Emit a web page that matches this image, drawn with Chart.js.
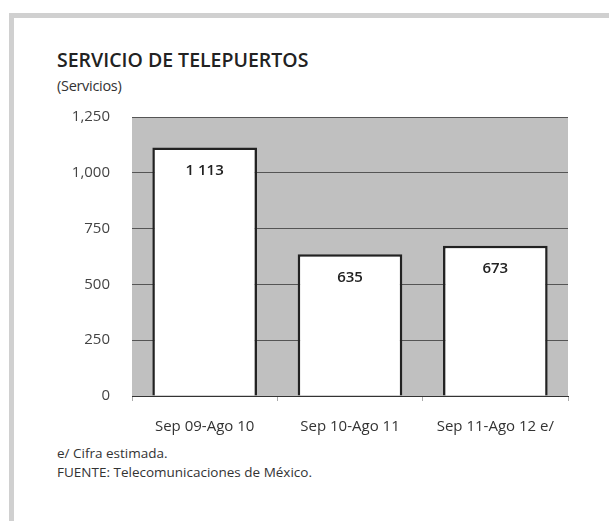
<!DOCTYPE html>
<html><head><meta charset="utf-8">
<script src="https://cdn.jsdelivr.net/npm/chart.js@4/dist/chart.umd.min.js"></script>
<style>
html,body{margin:0;padding:0;background:#fff;width:609px;height:521px;overflow:hidden;font-family:"Open Sans",sans-serif;}
#frameTop{position:absolute;left:9px;top:13px;width:600px;height:5px;background:#d0d0d0;}
#frameLeft{position:absolute;left:9px;top:13px;width:5px;height:508px;background:#d0d0d0;}
#title{position:absolute;left:57px;top:46px;font-size:19.5px;font-weight:600;color:#222;white-space:nowrap;}
#sub{position:absolute;left:57px;top:76px;font-size:14.5px;color:#333;white-space:nowrap;letter-spacing:-0.3px;}
#note1{position:absolute;left:57px;top:444px;font-size:13.5px;color:#333;white-space:nowrap;}
#note2{position:absolute;left:57px;top:463px;font-size:13.5px;color:#333;white-space:nowrap;}
#wrap{position:absolute;left:0;top:86px;width:609px;height:354px;}
</style></head>
<body>
<div id="frameTop"></div><div id="frameLeft"></div>
<div id="title">SERVICIO DE TELEPUERTOS</div>
<div id="sub">(Servicios)</div>
<div id="wrap"><canvas id="c" width="609" height="354"></canvas></div>
<div id="note1">e/ Cifra estimada.</div>
<div id="note2">FUENTE: Telecomunicaciones de México.</div>
<script>
const categories = ["Sep 09-Ago 10", "Sep 10-Ago 11", "Sep 11-Ago 12 e/"];
const servicios = [1113, 635, 673];
const yTicks = [0, 250, 500, 750, 1000, 1250];

function fmtSpace(v){ return String(v).replace(/\B(?=(\d{3})+(?!\d))/g, " "); }
function fmtComma(v){ return String(v).replace(/\B(?=(\d{3})+(?!\d))/g, ","); }

const bgPlugin = {
  id: 'bg',
  beforeDraw(chart){
    const a = chart.chartArea, ctx = chart.ctx;
    ctx.save(); ctx.fillStyle = '#c0c0c0';
    ctx.fillRect(a.left, a.top, a.right - a.left, a.bottom - a.top);
    ctx.restore();
  }
};
const labelPlugin = {
  id: 'lbl',
  afterDatasetsDraw(chart){
    const ctx = chart.ctx, meta = chart.getDatasetMeta(0);
    ctx.save();
    ctx.font = '600 15px "Open Sans"';
    ctx.fillStyle = '#222'; ctx.textAlign = 'center'; ctx.textBaseline = 'middle';
    meta.data.forEach((el, i) => {
      ctx.fillText(fmtSpace(chart.data.datasets[0].data[i]), el.x, el.y + 23);
    });
    ctx.restore();
  }
};

new Chart(document.getElementById('c'), {
  type: 'bar',
  data: { labels: categories, datasets: [{ data: servicios, backgroundColor: '#ffffff', borderColor: '#222222', borderWidth: 2.5, barPercentage: 0.72, categoryPercentage: 1 }] },
  options: {
    responsive: false, animation: false,
    layout: { padding: { left: 0, right: 41, top: 4, bottom: 0 } },
    plugins: { legend: { display: false }, tooltip: { enabled: false } },
    scales: {
      x: {
        grid: { drawOnChartArea: false, drawTicks: true, tickLength: 5, color: '#aaaaaa', offset: true },
        border: { display: true, color: '#333333', width: 1 },
        ticks: { color: '#333', font: { family: 'Open Sans', size: 15 }, padding: 17, maxRotation: 0 },
        afterFit(s){ s.height = 44; }
      },
      y: {
        min: 0, max: 1250,
        afterBuildTicks(s){ s.ticks = yTicks.map(v => ({ value: v })); },
        grid: { color: '#555555', lineWidth: 1, drawTicks: false },
        border: { display: false },
        ticks: { color: '#444', font: { family: 'Open Sans', size: 15 }, padding: 22, callback: v => fmtComma(v) },
        afterFit(s){ s.width = 132; }
      }
    }
  },
  plugins: [bgPlugin, labelPlugin]
});
</script>
</body></html>
